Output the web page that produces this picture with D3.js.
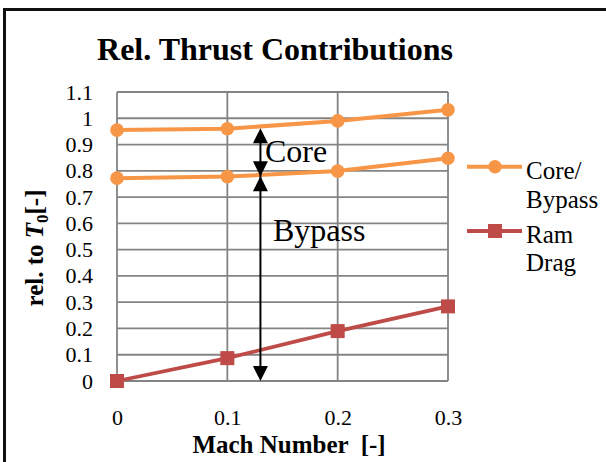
<!DOCTYPE html>
<html>
<head>
<meta charset="utf-8">
<script src="https://cdn.jsdelivr.net/npm/d3@7"></script>
<style>
  html, body { margin: 0; padding: 0; background: #fff; }
  svg { display: block; }
  text { font-family: "Liberation Serif", "Times New Roman", serif; fill: #000; }
</style>
</head>
<body>
<svg id="chart" width="606" height="462"></svg>
<script>
// Mach numbers on the x axis
const mach = [0, 0.1, 0.2, 0.3];
// Core + bypass thrust (upper curve) and bypass thrust alone (lower curve), relative to T0
const coreBypassTop = [0.955, 0.960, 0.990, 1.032];
const bypassOnly = [0.772, 0.778, 0.799, 0.848];
// Ram drag relative to T0
const ramDrag = [0, 0.087, 0.19, 0.284];
// Tick values
const xTicks = [0, 0.1, 0.2, 0.3];
const yTicks = [0, 0.1, 0.2, 0.3, 0.4, 0.5, 0.6, 0.7, 0.8, 0.9, 1.0, 1.1];
// Annotation arrows: Mach position and the levels they span
const arrowMach = 0.13;
const arrowLevels = { top: 0.962, split: 0.779, base: 0 };

const orange = "#F79646";
const red = "#BE4B48";
const grid = "#848484";

const svg = d3.select("#chart");

// Outer chart frame
svg.append("rect")
  .attr("x", 4.5).attr("y", 9.5)
  .attr("width", 700).attr("height", 600)
  .attr("fill", "#fff")
  .attr("stroke", "#111").attr("stroke-width", 3);

const x = d3.scaleLinear().domain([0, 0.3]).range([117, 448]);
const y = d3.scaleLinear().domain([0, 1.1]).range([381, 92]);
const fmt = d => String(+d.toFixed(1));

// Gridlines
const g = svg.append("g");
g.selectAll("line.h").data(yTicks).join("line")
  .attr("class", "h")
  .attr("x1", x(0)).attr("x2", x(0.3))
  .attr("y1", d => y(d)).attr("y2", d => y(d))
  .attr("stroke", grid).attr("stroke-width", 1.8);
g.selectAll("line.v").data(xTicks).join("line")
  .attr("class", "v")
  .attr("y1", y(0)).attr("y2", y(1.1))
  .attr("x1", d => x(d)).attr("x2", d => x(d))
  .attr("stroke", grid).attr("stroke-width", 1.8);

// Axes (labels only)
const yAxis = svg.append("g")
  .attr("transform", `translate(${x(0)},0)`)
  .call(d3.axisLeft(y).tickValues(yTicks).tickFormat(fmt).tickSize(0).tickPadding(24));
const xAxis = svg.append("g")
  .attr("transform", `translate(0,${y(0)})`)
  .call(d3.axisBottom(x).tickValues(xTicks).tickFormat(fmt).tickSize(0).tickPadding(28));
[yAxis, xAxis].forEach(a => {
  a.select(".domain").remove();
  a.selectAll("text")
    .style("font-family", '"Liberation Serif", serif')
    .style("font-size", "22px")
    .attr("fill", "#000");
});

// Series lines
const line = d3.line().x((d, i) => x(mach[i])).y(d => y(d));
[coreBypassTop, bypassOnly].forEach(s => {
  svg.append("path").datum(s)
    .attr("d", line).attr("fill", "none")
    .attr("stroke", orange).attr("stroke-width", 4);
  svg.selectAll(null).data(s).join("circle")
    .attr("cx", (d, i) => x(mach[i])).attr("cy", d => y(d))
    .attr("r", 6.8).attr("fill", orange);
});
svg.append("path").datum(ramDrag)
  .attr("d", line).attr("fill", "none")
  .attr("stroke", red).attr("stroke-width", 3.8);
svg.selectAll(null).data(ramDrag).join("rect")
  .attr("x", (d, i) => x(mach[i]) - 7).attr("y", d => y(d) - 7)
  .attr("width", 14).attr("height", 14).attr("fill", red);

// Annotation arrows
const ax = x(arrowMach);
const head = 15, half = 7.5;
const yTop = y(arrowLevels.top), ySplit = y(arrowLevels.split), yBase = y(arrowLevels.base);
svg.append("line")
  .attr("x1", ax).attr("x2", ax).attr("y1", yTop + 4).attr("y2", yBase - 4)
  .attr("stroke", "#000").attr("stroke-width", 2);
const tri = (tipY, dir) => `M${ax},${tipY}L${ax - half},${tipY + dir * head}L${ax + half},${tipY + dir * head}Z`;
[tri(yTop, 1), tri(ySplit, -1), tri(ySplit, 1), tri(yBase, -1)].forEach(p =>
  svg.append("path").attr("d", p).attr("fill", "#000"));

svg.append("text").attr("x", 265).attr("y", 162)
  .style("font-size", "32px").text("Core");
svg.append("text").attr("x", 273).attr("y", 241)
  .style("font-size", "32px").text("Bypass");

// Title
svg.append("text").attr("x", 275).attr("y", 60)
  .attr("text-anchor", "middle")
  .style("font-size", "32px").style("font-weight", "bold")
  .text("Rel. Thrust Contributions");

// Axis titles
svg.append("text").attr("x", 289).attr("y", 453)
  .attr("text-anchor", "middle")
  .style("font-size", "25px").style("font-weight", "bold").style("white-space", "pre")
  .text("Mach Number  [-]");

const yt = svg.append("text")
  .attr("transform", "translate(43,248) rotate(-90)")
  .attr("text-anchor", "middle")
  .style("font-size", "25px").style("font-weight", "bold");
yt.append("tspan").text("rel. to ");
yt.append("tspan").style("font-style", "italic").text("T");
yt.append("tspan").attr("dy", 5).style("font-size", "17px").text("0");
yt.append("tspan").attr("dy", -5).text("[-]");

// Legend
const lg = svg.append("g");
lg.append("line").attr("x1", 467).attr("x2", 522).attr("y1", 166.7).attr("y2", 166.7)
  .attr("stroke", orange).attr("stroke-width", 4);
lg.append("circle").attr("cx", 495).attr("cy", 166.7).attr("r", 6.8).attr("fill", orange);
lg.append("text").attr("x", 526).attr("y", 179).style("font-size", "25px").text("Core/");
lg.append("text").attr("x", 526).attr("y", 208).style("font-size", "25px").text("Bypass");
lg.append("line").attr("x1", 467).attr("x2", 522).attr("y1", 231).attr("y2", 231)
  .attr("stroke", red).attr("stroke-width", 3.8);
lg.append("rect").attr("x", 488).attr("y", 224).attr("width", 14).attr("height", 14).attr("fill", red);
lg.append("text").attr("x", 526).attr("y", 243).style("font-size", "25px").text("Ram");
lg.append("text").attr("x", 526).attr("y", 271).style("font-size", "25px").text("Drag");
</script>
</body>
</html>
